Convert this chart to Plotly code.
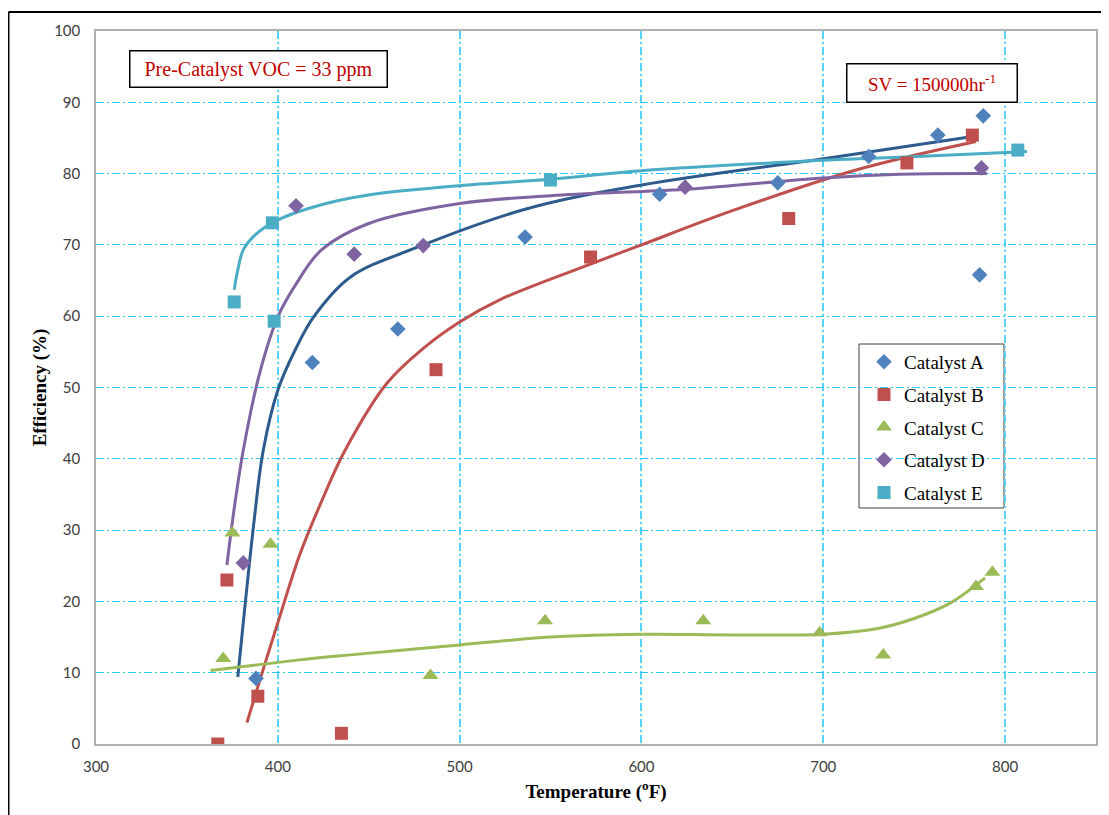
import plotly.graph_objects as go

# ---- data ----
names = ["Catalyst A", "Catalyst B", "Catalyst C", "Catalyst D", "Catalyst E"]

a_x = [388, 419, 466, 536, 610, 675, 725, 763, 788, 786]
a_y = [9.2, 53.5, 58.2, 71.1, 77.1, 78.7, 82.4, 85.4, 88.1, 65.8]
b_x = [367, 372, 389, 435, 487, 572, 681, 746, 782]
b_y = [0.0, 23.0, 6.7, 1.5, 52.5, 68.3, 73.7, 81.5, 85.4]
c_x = [370, 375, 396, 484, 547, 634, 698, 733, 784, 793]
c_y = [12.0, 29.6, 28.0, 9.6, 17.3, 17.3, 15.6, 12.5, 22.1, 24.1]
d_x = [381, 410, 442, 480, 624, 787]
d_y = [25.4, 75.5, 68.7, 69.9, 78.1, 80.8]
e_x = [376, 397, 398, 550, 807]
e_y = [62.0, 73.1, 59.3, 79.1, 83.3]

# trend curves
ta_x = [378, 387, 392, 400, 410, 420, 440, 475, 536, 600, 703, 785]
ta_y = [9.4, 31.4, 41.2, 49.6, 55.5, 60.0, 65.5, 69.5, 75.0, 78.4, 82.2, 85.3]
tb_x = [383, 392, 400, 412, 424, 437, 460, 480, 500, 522, 572, 600, 650, 718, 784]
tb_y = [3.0, 10.5, 17.0, 26.5, 34.0, 41.2, 50.6, 55.5, 59.2, 62.3, 67.3, 70.0, 74.8, 80.5, 84.5]
tc_x = [363, 412, 440, 500, 550, 600, 650, 700, 730, 750, 770, 789]
tc_y = [10.3, 11.8, 12.5, 13.9, 15.0, 15.4, 15.3, 15.4, 16.2, 17.6, 19.8, 23.3]
td_x = [372, 376, 381, 390, 400, 410, 424, 450, 500, 550, 624, 700, 742, 790]
td_y = [25.1, 33.0, 41.2, 52.0, 59.9, 64.5, 69.3, 73.0, 75.8, 76.9, 77.8, 79.4, 79.9, 80.0]
te_x = [376, 378, 381, 388, 400, 425, 450, 500, 550, 600, 703, 742, 812]
te_y = [63.7, 66.5, 69.3, 71.5, 73.5, 75.7, 77.0, 78.3, 79.2, 80.4, 81.9, 82.3, 83.1]

x_ticks = [300, 400, 500, 600, 700, 800]
y_ticks = [0, 10, 20, 30, 40, 50, 60, 70, 80, 90, 100]

marker_colors = ["#4F81BD", "#C0504D", "#9BBB59", "#8064A2", "#4BACC6"]
line_colors = ["#2E5B8E", "#C0504D", "#9BBB59", "#8064A2", "#4BACC6"]
symbols = ["diamond", "square", "triangle-up", "diamond", "square"]
sizes = [12, 13, 14, 12, 13]

points = [(a_x, a_y), (b_x, b_y), (c_x, c_y), (d_x, d_y), (e_x, e_y)]
trends = [(ta_x, ta_y), (tb_x, tb_y), (tc_x, tc_y), (td_x, td_y), (te_x, te_y)]

serif = "Liberation Serif, Times New Roman, serif"
sans = "Lato, Carlito, Liberation Sans, sans-serif"

fig = go.Figure()

for i in range(5):
    tx, ty = trends[i]
    fig.add_trace(go.Scatter(
        x=tx, y=ty, mode="lines", line=dict(color=line_colors[i], width=3, shape="spline", smoothing=1.0),
        showlegend=False, hoverinfo="skip"))

for i in range(5):
    px_, py_ = points[i]
    fig.add_trace(go.Scatter(
        x=px_, y=py_, mode="markers", name=names[i], legendgroup=names[i],
        marker=dict(symbol=symbols[i], size=sizes[i], color=marker_colors[i],
                    line=dict(width=0))))

dash = "8px,3px,2px,3px"

# the page body has an 8px default margin; the figure is sized so the plot area
# lands where it does in the reference
fig.update_layout(
    width=1101, height=807,
    margin=dict(l=88, r=13, t=23, b=71),
    paper_bgcolor="white", plot_bgcolor="white",
    showlegend=True,
    legend=dict(x=0.767, y=0.564, xanchor="left", yanchor="top",
                bgcolor="rgba(0,0,0,0)", bordercolor="rgba(0,0,0,0)", borderwidth=1,
                font=dict(family=serif, size=19, color="#000000"),
                traceorder="grouped", tracegroupgap=5, itemwidth=30),
    xaxis=dict(range=[300, 850], tickvals=x_ticks, showline=True, mirror=True,
               linecolor="#B0B0B0", linewidth=1.5, zeroline=False, ticks="",
               ticklabelstandoff=8, automargin=False,
               gridcolor="#5AD2F7", gridwidth=2, griddash=dash,
               tickfont=dict(family=sans, size=15, color="#404040"),
               title=dict(text="Temperature (<sup>o</sup>F)", standoff=11,
                          font=dict(family=serif, size=19, color="#000000", weight="bold")),
               ),
    yaxis=dict(range=[0, 100], tickvals=y_ticks, showline=True, mirror=True,
               linecolor="#B0B0B0", linewidth=1.5, zeroline=False, ticks="",
               ticklabelstandoff=11, automargin=False,
               gridcolor="#2EC8F5", gridwidth=1, griddash=dash,
               tickfont=dict(family=sans, size=15, color="#404040"),
               title=dict(text="Efficiency (%)", standoff=2,
                          font=dict(family=serif, size=19, color="#000000", weight="bold")),
               ),
    annotations=[
        dict(xref="paper", yref="paper", x=0.162, y=0.9474, xanchor="center", yanchor="middle",
             text="Pre-Catalyst VOC = 33 ppm", showarrow=False, width=254, height=33,
             font=dict(family=serif, size=20, color="#C00000"),
             bgcolor="white", bordercolor="#000000", borderwidth=1.5),
        dict(xref="paper", yref="paper", x=0.8355, y=0.9264, xanchor="center", yanchor="middle",
             text="SV = 150000hr<sup>-1</sup>", showarrow=False, width=167, height=35,
             font=dict(family=serif, size=19, color="#C00000"),
             bgcolor="white", bordercolor="#000000", borderwidth=1.5),
    ],
    shapes=[
        # legend frame (white box over the grid)
        dict(type="rect", xref="paper", yref="paper", x0=0.763, x1=0.908, y0=0.331, y1=0.561,
             layer="between", fillcolor="white", line=dict(color="#404040", width=1)),
        # outer chart frame (left and top edges visible in the crop)
        dict(type="line", xref="paper", yref="paper", x0=-0.0875, x1=-0.0875, y0=-0.2, y1=1.0266,
             line=dict(color="black", width=2)),
        dict(type="line", xref="paper", yref="paper", x0=-0.0875, x1=1.05, y0=1.0266, y1=1.0266,
             line=dict(color="black", width=2)),
    ],
)

fig.write_html("out.html")
